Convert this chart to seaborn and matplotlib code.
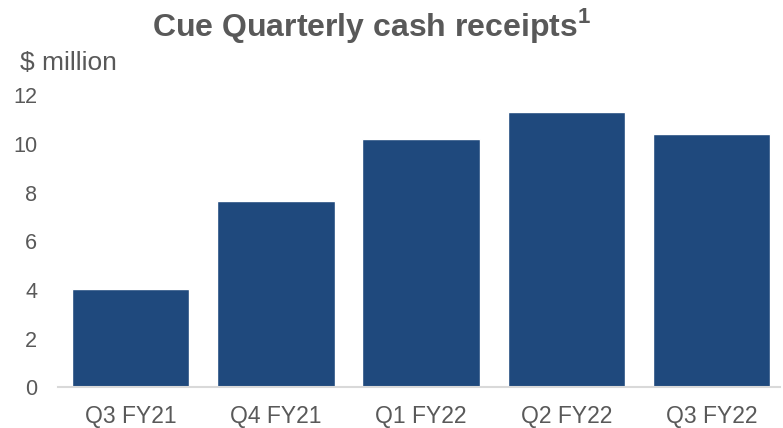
import matplotlib.pyplot as plt
import seaborn as sns
import pandas as pd

# Cue quarterly cash receipts, $ million
quarters = ["Q3 FY21", "Q4 FY21", "Q1 FY22", "Q2 FY22", "Q3 FY22"]
receipts = [4.05, 7.65, 10.2, 11.3, 10.4]
yticks = [0, 2, 4, 6, 8, 10, 12]

sns.set_theme(style="white")
plt.rcParams["font.family"] = ["Liberation Sans", "DejaVu Sans"]
plt.rcParams["mathtext.fontset"] = "custom"
plt.rcParams["mathtext.bf"] = "Liberation Sans:bold"
plt.rcParams["mathtext.rm"] = "Liberation Sans"

grey = "#595959"
df = pd.DataFrame({"quarter": quarters, "receipts": receipts})

fig = plt.figure(figsize=(7.83, 4.28), dpi=100)
ax = fig.add_axes([0.074, 0.095, 0.922, 0.682])

sns.barplot(data=df, x="quarter", y="receipts", color="#1F497D",
            saturation=1, width=0.81, ax=ax)

ax.set_xlim(-0.5, 4.47)
ax.set_ylim(0, 12)
ax.set_yticks(yticks)
ax.set_xlabel("")
ax.set_ylabel("")
ax.tick_params(axis="y", labelsize=15.6, labelcolor=grey, pad=15, length=0)
ax.tick_params(axis="x", labelsize=16.5, labelcolor=grey, pad=13, length=0)

sns.despine(ax=ax, left=True)
ax.spines["bottom"].set_color("#D9D9D9")
ax.spines["bottom"].set_linewidth(1.5)

fig.text(0.4745, 0.915, r"Cue Quarterly cash receipts$^{\mathbf{1}}$",
         ha="center", va="baseline", fontsize=23, fontweight="bold", color=grey)
fig.text(0.026, 0.836, "$ million", ha="left", va="baseline",
         fontsize=19, color=grey)

fig.savefig("out.png", dpi=100)
